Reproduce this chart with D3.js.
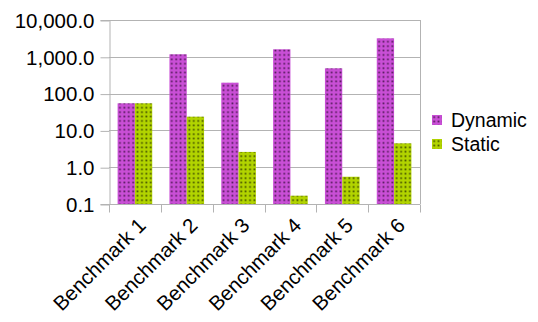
<!DOCTYPE html>
<html>
<head>
<meta charset="utf-8">
<script src="https://cdn.jsdelivr.net/npm/d3@7"></script>
<style>
  html, body { margin: 0; padding: 0; background: #fff; }
  svg { display: block; font-family: "Liberation Sans", Arial, sans-serif; }
</style>
</head>
<body>
<svg id="chart" width="538" height="322"></svg>
<script>
// Benchmark run times on a log scale
const categories = ["Benchmark 1", "Benchmark 2", "Benchmark 3", "Benchmark 4", "Benchmark 5", "Benchmark 6"];
const seriesNames = ["Dynamic", "Static"];
const dynamicValues = [54.5, 1170, 198, 1600, 487, 3180];
const staticValues = [54.5, 23.6, 2.6, 0.168, 0.55, 4.46];
const yTicks = [0.1, 1, 10, 100, 1000, 10000];

const seriesColors = { Dynamic: "#c94fd6", Static: "#b2d400" };
const dotColors = { Dynamic: "#3e1044", Static: "#2f3800" };

const svg = d3.select("#chart");
const margin = { left: 109, right: 118, top: 20, bottom: 118 };
const W = 538, H = 322;

const x0 = d3.scaleBand().domain(categories).range([margin.left, W - margin.right]);
const groupPad = x0.bandwidth() * 0.166;
const x1 = d3.scaleBand().domain(seriesNames).range([groupPad, x0.bandwidth() - groupPad]);
const y = d3.scaleLog().domain([0.1, 10000]).range([H - margin.bottom, margin.top]);

// dotted fill patterns
const defs = svg.append("defs");
seriesNames.forEach(name => {
  const p = defs.append("pattern")
    .attr("id", "pat-" + name)
    .attr("patternUnits", "userSpaceOnUse")
    .attr("width", 4.4).attr("height", 4.4);
  p.append("rect").attr("width", 4.4).attr("height", 4.4).attr("fill", seriesColors[name]);
  p.append("rect").attr("x", 1.3).attr("y", 1.3).attr("width", 1.7).attr("height", 1.7)
    .attr("fill", dotColors[name]).attr("opacity", 0.85);
});

// horizontal gridlines
svg.append("g").selectAll("line").data(yTicks).join("line")
  .attr("x1", margin.left).attr("x2", W - margin.right)
  .attr("y1", d => Math.round(y(d)) + 0.5).attr("y2", d => Math.round(y(d)) + 0.5)
  .attr("stroke", "#b3b3b3").attr("stroke-width", 1);

// y axis
const fmt = d3.format(",.1f");
const yAxis = svg.append("g")
  .attr("transform", `translate(${margin.left + 0.5},0)`)
  .call(d3.axisLeft(y).tickValues(yTicks).tickFormat(fmt).tickSize(9).tickPadding(6));
yAxis.select(".domain").attr("stroke", "#b3b3b3");
yAxis.selectAll(".tick line").attr("stroke", "#b3b3b3").attr("transform", "translate(0,0.5)");
yAxis.selectAll(".tick text")
  .attr("font-size", 20.5).attr("fill", "#000")
  .attr("font-family", "Liberation Sans, Arial, sans-serif")
  .attr("dy", "0.36em");

// right border of the plot area
svg.append("line")
  .attr("x1", W - margin.right + 0.5).attr("x2", W - margin.right + 0.5)
  .attr("y1", margin.top).attr("y2", H - margin.bottom)
  .attr("stroke", "#b3b3b3");

// bars
const rows = categories.map((c, i) => ({ cat: c, vals: [dynamicValues[i], staticValues[i]] }));
const groups = svg.append("g").selectAll("g").data(rows).join("g")
  .attr("transform", d => `translate(${x0(d.cat)},0)`);
groups.selectAll("rect")
  .data(d => d.vals.map((v, k) => ({ name: seriesNames[k], v })))
  .join("rect")
  .attr("x", d => x1(d.name))
  .attr("width", x1.bandwidth())
  .attr("y", d => y(d.v))
  .attr("height", d => y(0.1) - y(d.v))
  .attr("fill", d => `url(#pat-${d.name})`);

// x axis with ticks at category boundaries
const xAxisG = svg.append("g").attr("transform", `translate(0,${Math.round(y(0.1)) + 0.5})`);
xAxisG.append("line")
  .attr("x1", margin.left).attr("x2", W - margin.right)
  .attr("stroke", "#b3b3b3");
const boundaries = categories.map(c => x0(c)).concat([x0(categories[categories.length - 1]) + x0.bandwidth()]);
xAxisG.selectAll("line.tk").data(boundaries).join("line").attr("class", "tk")
  .attr("x1", d => Math.round(d) + 0.5).attr("x2", d => Math.round(d) + 0.5)
  .attr("y1", 0).attr("y2", 8).attr("stroke", "#b3b3b3");
xAxisG.selectAll("text").data(categories).join("text")
  .attr("transform", d => `translate(${x0(d) + x0.bandwidth() / 2 + 2},${12}) rotate(-45)`)
  .attr("text-anchor", "end")
  .attr("dy", "0.7em")
  .attr("font-size", 20.5)
  .attr("fill", "#000")
  .text(d => d);

// legend
const legend = svg.append("g").attr("transform", "translate(432,115)");
const li = legend.selectAll("g").data(seriesNames).join("g")
  .attr("transform", (d, i) => `translate(0,${i * 24})`);
li.append("rect").attr("width", 10).attr("height", 10).attr("fill", d => `url(#pat-${d})`);
li.append("text").attr("x", 19).attr("y", 5).attr("dy", "0.36em")
  .attr("font-size", 19.5).attr("fill", "#000")
  .text(d => d);
</script>
</body>
</html>
